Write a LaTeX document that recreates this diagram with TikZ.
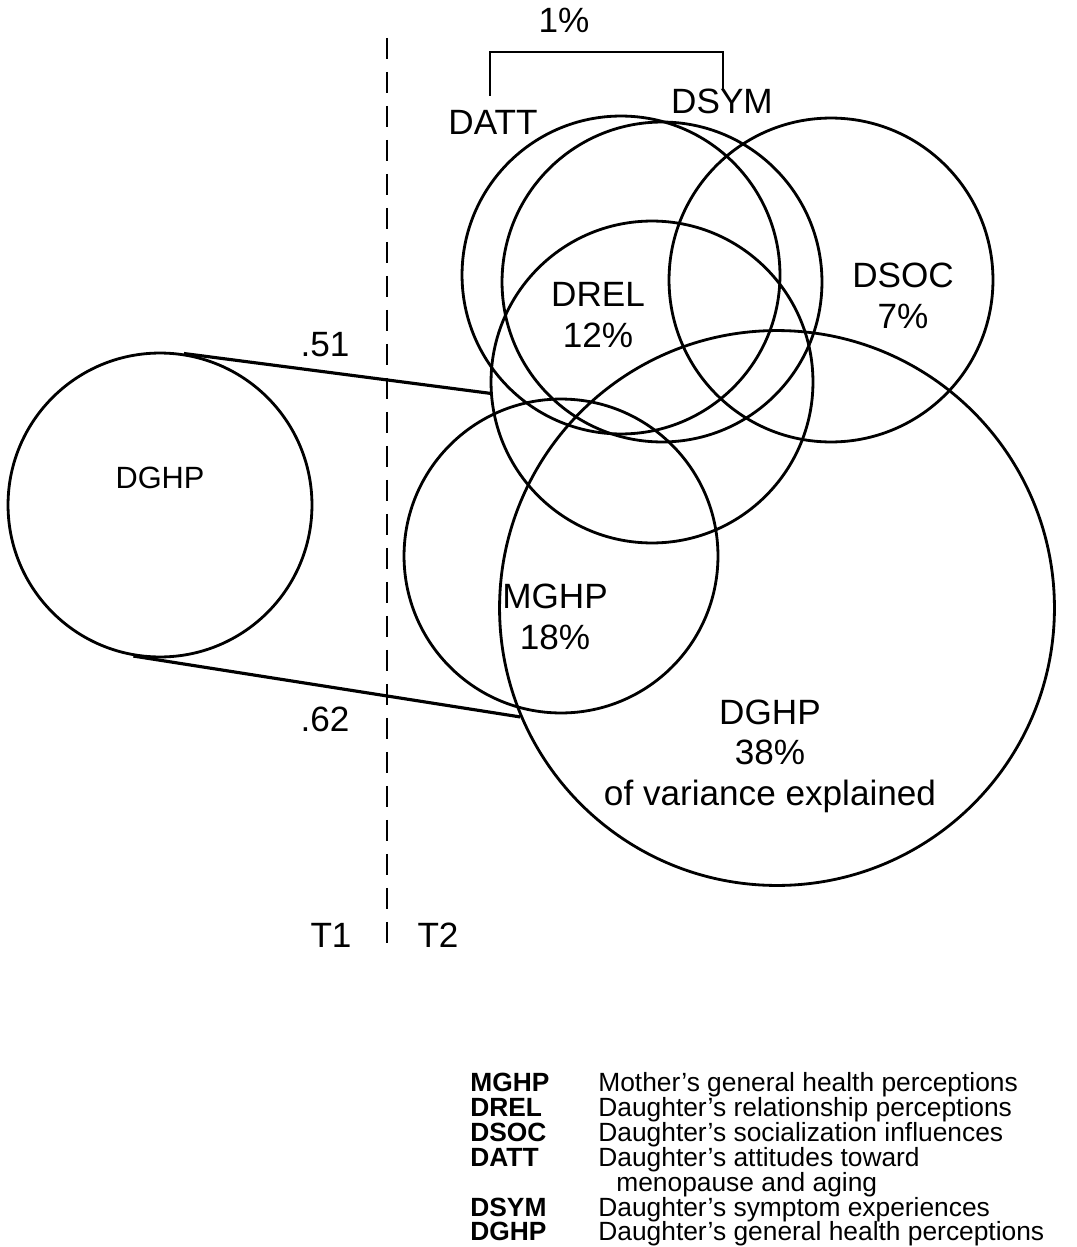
\documentclass[tikz,border=0pt]{standalone}
\usepackage{fontspec}
\setmainfont{Liberation Sans}
\begin{document}
\begin{tikzpicture}[x=0.02cm, y=-0.02cm,
				set/.style={circle,draw,line width=1.6pt,inner sep=0pt},
				tag/.style={font=\fontsize{20}{23}\selectfont,align=center},
				key/.style={anchor=base west,inner sep=0pt,font=\fontsize{15}{17}\selectfont\bfseries},
				meaning/.style={anchor=base west,inner sep=0pt,font=\fontsize{15}{17}\selectfont}]
\useasboundingbox (0,0) rectangle (1077,1247);
\node[set,minimum size=6.08cm] (dghpone) at (160,505) {};
\node[set,minimum size=6.36cm] (datt) at (621,275) {};
\node[set,minimum size=6.4cm] (dsym) at (662,282) {};
\node[set,minimum size=6.48cm] (dsoc) at (831,280) {};
\node[set,minimum size=6.44cm] (drel) at (652,382) {};
\node[set,minimum size=6.28cm] (mghp) at (561,556) {};
\node[set,minimum size=11.1cm] (dghptwo) at (777,608) {};
\node[tag,font=\fontsize{17.5}{20}\selectfont] (dghponetext) at (160,478) {DGHP};
\node[tag] (dreltext) at (598,315) {DREL\\12\%};
\node[tag] (dsoctext) at (903,296) {DSOC\\7\%};
\node[tag] (mghptext) at (555,617) {MGHP\\18\%};
\node[tag] (dghptwotext) at (770,756) {DGHP\\38\%\\of variance explained};
\node[tag] (datttext) at (493,122) {DATT};
\node[tag] (dsymtext) at (722,101) {DSYM};
\node[tag] (onepct) at (564,20) {1\%};
\coordinate (bl) at (490,96);
\coordinate (bt) at (606,52);
\coordinate (br) at (723,90);
\draw[line width=1.4pt] (bl) |- (bt) -| (br);
\draw[line width=1.8pt] (dghpone.81) -- (drel.184);
\draw[line width=1.8pt] (dghpone.-100) -- (dghptwo.203);
\node[tag] (rone) at (325,345) {.51};
\node[tag] (rtwo) at (325,719) {.62};
\coordinate (ttop) at (387,38);
\coordinate (tbot) at (387,955);
\draw[line width=1.4pt,dash pattern=on 0.42cm off 0.26cm] (ttop) -- (tbot);
\node[tag] (tone) at (331,935) {T1};
\node[tag] (ttwo) at (438,935) {T2};
\node[key] (kmghp) at (470,1091) {MGHP};
\node[meaning] (mmghp) at (598,1091) {Mother's general health perceptions};
\node[key] (kdrel) at (470,1116) {DREL};
\node[meaning] (mdrel) at (598,1116) {Daughter's relationship perceptions};
\node[key] (kdsoc) at (470,1141) {DSOC};
\node[meaning] (mdsoc) at (598,1141) {Daughter's socialization influences};
\node[key] (kdatt) at (470,1166) {DATT};
\node[meaning] (mdatt) at (598,1166) {Daughter's attitudes toward};
\node[meaning] (mdattmore) at (616,1191) {menopause and aging};
\node[key] (kdsym) at (470,1216) {DSYM};
\node[meaning] (mdsym) at (598,1216) {Daughter's symptom experiences};
\node[key] (kdghp) at (470,1240) {DGHP};
\node[meaning] (mdghp) at (598,1240) {Daughter's general health perceptions};
\end{tikzpicture}
\end{document}
